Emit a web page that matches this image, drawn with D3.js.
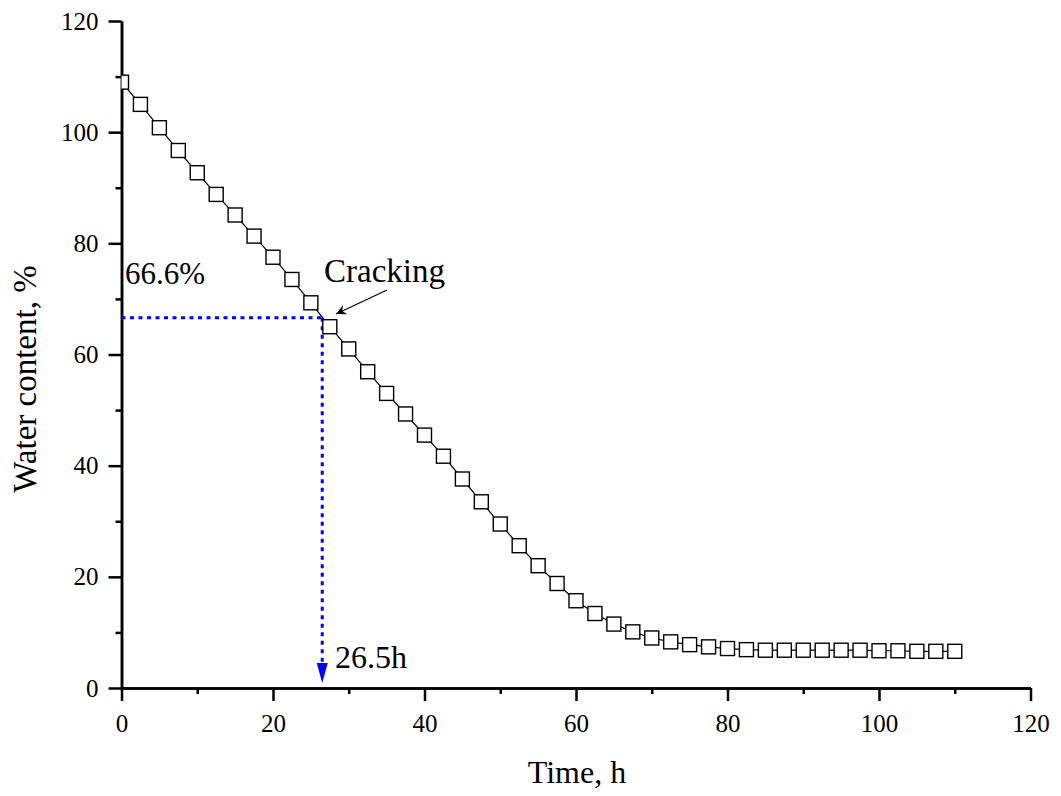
<!DOCTYPE html>
<html>
<head>
<meta charset="utf-8">
<script src="https://cdn.jsdelivr.net/npm/d3@7/dist/d3.min.js"></script>
<style>
  body { margin: 0; background: #fff; }
</style>
</head>
<body>
<div id="chart"></div>
<script>
// drying curve, sampled every 2.5 h
var times = [0, 2.5, 5, 7.5, 10, 12.5, 15, 17.5, 20, 22.5, 25, 27.5, 30, 32.5, 35, 37.5, 40,
  42.5, 45, 47.5, 50, 52.5, 55, 57.5, 60, 62.5, 65, 67.5, 70, 72.5, 75, 77.5, 80, 82.5, 85,
  87.5, 90, 92.5, 95, 97.5, 100, 102.5, 105, 107.5, 110];
var water = [109.0, 105.0, 100.8, 96.7, 92.7, 88.8, 85.1, 81.3, 77.5, 73.5, 69.3, 65.0, 61.0,
  56.9, 53.0, 49.3, 45.5, 41.7, 37.6, 33.5, 29.5, 25.6, 22.0, 18.8, 15.7, 13.4, 11.5, 10.1,
  9.0, 8.3, 7.8, 7.4, 7.1, 6.9, 6.8, 6.8, 6.8, 6.8, 6.8, 6.8, 6.7, 6.7, 6.6, 6.6, 6.6];
var xTicks = [0, 20, 40, 60, 80, 100, 120];
var yTicks = [0, 20, 40, 60, 80, 100, 120];
var crackTime = 26.5, crackWater = 66.6;

var FONT = "'Liberation Serif', 'Times New Roman', Times, serif";

var width = 1061, height = 796;
var margin = {left: 121.5, right: 30.5, top: 21, bottom: 108};

var svg = d3.select("#chart").append("svg")
    .attr("width", width)
    .attr("height", height)
    .style("font-family", FONT);

var x = d3.scaleLinear().domain([0, 120]).range([margin.left, width - margin.right]);
var y = d3.scaleLinear().domain([0, 120]).range([height - margin.bottom, margin.top]);

svg.append("defs").append("clipPath").attr("id", "plot")
  .append("rect")
    .attr("x", x(0)).attr("y", y(120))
    .attr("width", x(120) - x(0)).attr("height", y(0) - y(120));

svg.select("defs").append("marker")
    .attr("id", "blackArrow")
    .attr("viewBox", "0 0 10 10")
    .attr("refX", 10).attr("refY", 5)
    .attr("markerWidth", 16).attr("markerHeight", 10)
    .attr("markerUnits", "userSpaceOnUse")
    .attr("orient", "auto")
  .append("path")
    .attr("d", "M0,0 L10,5 L0,10 L3,5 Z")
    .attr("fill", "#000");

// axes, major + minor ticks
var xAxis = d3.axisBottom(x).tickValues(xTicks).tickSize(13).tickPadding(13).tickSizeOuter(0);
var xMinor = d3.axisBottom(x).tickValues(d3.range(10, 120, 20)).tickSize(6).tickFormat("").tickSizeOuter(0);
var yAxis = d3.axisLeft(y).tickValues(yTicks).tickSize(13).tickPadding(10).tickSizeOuter(0);
var yMinor = d3.axisLeft(y).tickValues(d3.range(10, 120, 20)).tickSize(6).tickFormat("").tickSizeOuter(0);

function styleAxis(g) {
  g.attr("font-family", null).attr("font-size", null);
  g.selectAll("path").attr("stroke", "#000").attr("stroke-width", 2.5);
  g.selectAll("line").attr("stroke", "#000").attr("stroke-width", 2.5);
  g.selectAll("text").style("font-family", FONT).style("font-size", "25px").attr("fill", "#000");
}

svg.append("g").attr("transform", "translate(0," + y(0) + ")").call(xMinor).call(styleAxis);
svg.append("g").attr("transform", "translate(0," + y(0) + ")").call(xAxis).call(styleAxis);
svg.append("g").attr("transform", "translate(" + x(0) + ",0)").call(yMinor).call(styleAxis);
svg.append("g").attr("transform", "translate(" + x(0) + ",0)").call(yAxis).call(styleAxis);

function label(sel, size) {
  return sel.style("font-family", FONT).style("font-size", size + "px").attr("fill", "#000");
}

// axis titles
svg.append("text")
    .attr("x", 577)
    .attr("y", 783)
    .attr("text-anchor", "middle")
    .call(label, 32)
    .text("Time, h");

svg.append("text")
    .attr("transform", "translate(36,379) rotate(-90)")
    .attr("text-anchor", "middle")
    .call(label, 33)
    .text("Water content, %");

// guide lines at the cracking point
svg.append("line")
    .attr("x1", x(0)).attr("x2", x(crackTime))
    .attr("y1", y(crackWater)).attr("y2", y(crackWater))
    .attr("stroke", "#0000ff").attr("stroke-width", 3)
    .attr("stroke-dasharray", "4,4.5");
svg.append("line")
    .attr("x1", x(crackTime)).attr("x2", x(crackTime))
    .attr("y1", y(crackWater)).attr("y2", y(0) - 24)
    .attr("stroke", "#0000ff").attr("stroke-width", 3)
    .attr("stroke-dasharray", "4,4.5");
// blue arrow head
var ax = x(crackTime), ay = y(0) - 5;
svg.append("path")
    .attr("d", "M" + (ax - 5.5) + "," + (ay - 20) + " L" + (ax + 5.5) + "," + (ay - 20) + " L" + ax + "," + ay + " Z")
    .attr("fill", "#0000ff");

// data line + square markers
var line = d3.line()
    .x(function(d, i) { return x(times[i]); })
    .y(function(d) { return y(d); });

var plot = svg.append("g").attr("clip-path", "url(#plot)");

plot.append("path")
    .datum(water)
    .attr("d", line)
    .attr("fill", "none")
    .attr("stroke", "#000")
    .attr("stroke-width", 1.2);

plot.selectAll("rect.pt")
    .data(water)
  .enter().append("rect")
    .attr("class", "pt")
    .attr("x", function(d, i) { return x(times[i]) - 7; })
    .attr("y", function(d) { return y(d) - 7; })
    .attr("width", 14)
    .attr("height", 14)
    .attr("fill", "#fff")
    .attr("stroke", "#000")
    .attr("stroke-width", 1.4);

// annotations
svg.append("text")
    .attr("x", 125).attr("y", 284)
    .call(label, 31)
    .text("66.6%");

svg.append("text")
    .attr("x", 324).attr("y", 282)
    .call(label, 33)
    .text("Cracking");

svg.append("line")
    .attr("x1", 387).attr("y1", 290)
    .attr("x2", 336).attr("y2", 314)
    .attr("stroke", "#000").attr("stroke-width", 1.3)
    .attr("marker-end", "url(#blackArrow)");

svg.append("text")
    .attr("x", 335).attr("y", 668)
    .call(label, 32)
    .text("26.5h");
</script>
</body>
</html>
